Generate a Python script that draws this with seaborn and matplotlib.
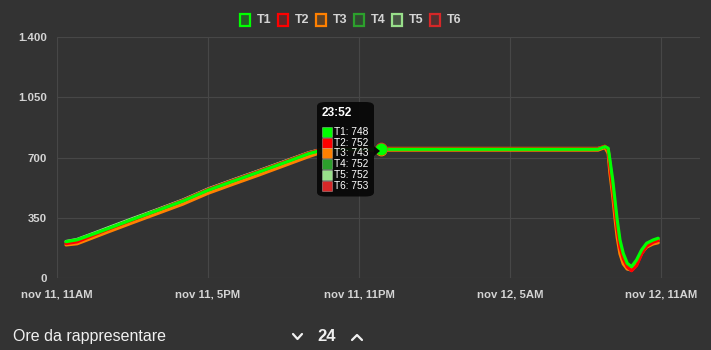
import matplotlib
matplotlib.use("Agg")
import numpy as np
import pandas as pd
import seaborn as sns
import matplotlib.pyplot as plt
from matplotlib.patches import Rectangle, FancyBboxPatch, Polygon
from matplotlib.lines import Line2D

# ---------------- data ----------------
hours = [0.36, 0.8, 1.0, 1.5, 2, 3, 4, 5, 6, 7, 8, 9, 10, 10.5, 10.8,
         12, 14, 16, 18, 20, 21.5,
         21.77, 21.9, 21.97, 22.08, 22.17, 22.26, 22.37, 22.5, 22.66, 22.83,
         23.03, 23.23, 23.43, 23.69, 23.89]

t1 = [211, 222, 232, 258, 285, 340, 393, 447, 510, 563, 615, 668, 722, 742, 748,
      748, 748, 748, 748, 748, 748,
      763, 754, 686, 570, 453, 337, 221, 143, 85, 66, 105, 163, 202, 221, 231]
t2 = [200, 210, 222, 252, 282, 338, 394, 450, 514, 567, 619, 672, 726, 746, 752,
      752, 752, 752, 752, 752, 752,
      766, 745, 650, 520, 400, 285, 180, 112, 64, 42, 72, 140, 185, 208, 218]
t3 = [192, 199, 210, 238, 266, 321, 375, 429, 492, 545, 597, 651, 705, 730, 743,
      743, 743, 743, 743, 743, 743,
      758, 725, 610, 480, 350, 235, 140, 82, 52, 55, 88, 145, 180, 198, 205]
t4 = [208, 220, 231, 257, 284, 339, 393, 448, 512, 565, 618, 671, 725, 745, 752,
      752, 752, 752, 752, 752, 752,
      762, 748, 670, 545, 425, 310, 200, 125, 68, 50, 90, 150, 192, 212, 224]
t5 = [212, 224, 235, 262, 290, 345, 398, 453, 517, 570, 622, 675, 728, 747, 752,
      752, 752, 752, 752, 752, 752,
      761, 740, 650, 520, 395, 280, 175, 100, 55, 45, 85, 148, 190, 210, 222]
t6 = [202, 213, 225, 255, 285, 341, 397, 452, 516, 569, 621, 674, 727, 747, 753,
      753, 753, 753, 753, 753, 753,
      765, 746, 660, 530, 410, 292, 185, 114, 66, 45, 76, 142, 187, 209, 219]

series_names = ["T1", "T2", "T3", "T4", "T5", "T6"]
series_values = [t1, t2, t3, t4, t5, t6]
colors = ["#00ff00", "#ff0000", "#ff8000", "#2ca02c", "#98df8a", "#d62728"]

tick_hours = [0, 6, 12, 18, 24]
tick_labels = ["nov 11, 11AM", "nov 11, 5PM", "nov 11, 11PM", "nov 12, 5AM", "nov 12, 11AM"]
y_ticks = [0, 350, 700, 1050, 1400]
y_labels = ["0", "350", "700", "1.050", "1.400"]

hover_hour = 12 + 52 / 60
hover_title = "23:52"
hover_values = [748, 752, 743, 752, 752, 753]

footer_label = "Ore da rappresentare"
footer_hours = "24"

# ---------------- style ----------------
W, H = 711, 350
BG = "#333333"
GRID = "#474747"
TXT = "#d4d4d4"

sns.set_style("dark", {"axes.facecolor": BG, "figure.facecolor": BG,
                       "axes.edgecolor": BG, "grid.color": GRID})
plt.rcParams["font.family"] = ["Liberation Sans", "DejaVu Sans"]


def fx(x):
    return x / W


def fy(y):
    return 1 - y / H


fig = plt.figure(figsize=(W / 100, H / 100), dpi=100)
fig.patch.set_facecolor(BG)
ax = fig.add_axes([fx(57), fy(278), (700 - 57) / W, (278 - 37) / H])
ax.set_facecolor(BG)

df = pd.DataFrame({
    "hour": hours * len(series_names),
    "value": sum(series_values, []),
    "serie": np.repeat(series_names, len(hours)),
})

sns.lineplot(data=df, x="hour", y="value", hue="serie",
             hue_order=series_names[::-1],
             palette=dict(zip(series_names, colors)),
             linewidth=2.3, estimator=None, sort=False, legend=False, ax=ax)

# hover points
for name, col, v in list(zip(series_names, colors, hover_values))[::-1]:
    ax.plot([hover_hour], [v], marker="o", ms=7.5, color=col, mec=col, zorder=5)
ax.plot([hover_hour], [hover_values[0]], marker="o", ms=5.5, color=colors[0],
        mec=colors[0], zorder=6)

ax.set_xlim(0, 25.55)
ax.set_ylim(0, 1400)
ax.set_xticks(tick_hours)
ax.set_xticklabels(tick_labels)
ax.set_yticks(y_ticks)
ax.set_yticklabels(y_labels)
ax.set_xlabel("")
ax.set_ylabel("")
ax.grid(True, color=GRID, lw=0.8)
ax.set_axisbelow(True)
for s in ax.spines.values():
    s.set_visible(False)
ax.tick_params(axis="both", length=6.5, width=0.8, color=GRID,
               labelcolor=TXT, labelsize=8.2)
ax.tick_params(axis="y", pad=0.8)
ax.tick_params(axis="x", pad=2)
for lab in ax.get_xticklabels() + ax.get_yticklabels():
    lab.set_fontweight("bold")

# ---------------- legend (top) ----------------
for i, (name, col) in enumerate(zip(series_names, colors)):
    x0 = 239 + 38 * i
    fig.add_artist(Rectangle((fx(x0 + 1), fy(26)), 10 / W, 12.5 / H,
                             transform=fig.transFigure, facecolor=col + "33",
                             edgecolor=col, lw=1.6))
    fig.text(fx(x0 + 17.5), fy(19.7), name, color=TXT, fontsize=9,
             fontweight="bold", va="center", ha="left")

# ---------------- tooltip ----------------
fig.add_artist(FancyBboxPatch((fx(317), fy(196.5)), (374 - 317) / W, (196.5 - 102) / H,
                              boxstyle="round,pad=0,rounding_size=0.012",
                              transform=fig.transFigure, facecolor="#080808",
                              edgecolor="none", alpha=0.95, zorder=10))
fig.add_artist(Polygon([(fx(374), fy(146)), (fx(380), fy(151)), (fx(374), fy(156))],
                       closed=True, transform=fig.transFigure,
                       facecolor="#080808", edgecolor="none", zorder=10))
fig.text(fx(322), fy(113), hover_title, color="white", fontsize=8.6,
         fontweight="bold", va="center", ha="left", zorder=11)
for i, (name, col, v) in enumerate(zip(series_names, colors, hover_values)):
    yc = 131.7 + 10.85 * i
    fig.add_artist(Rectangle((fx(322), fy(yc + 5)), 10 / W, 10 / H,
                             transform=fig.transFigure, facecolor=col,
                             edgecolor="#ffffff55", lw=0.6, zorder=11))
    fig.text(fx(334), fy(yc), f"{name}: {v}", color="white", fontsize=7.3,
             va="center", ha="left", zorder=11)

# ---------------- footer ----------------
fig.text(fx(13), fy(336), footer_label, color="#f0f0f0", fontsize=11.5,
         va="center", ha="left")
fig.text(fx(326.5), fy(336.5), footer_hours, color="#f0f0f0", fontsize=12,
         fontweight="bold", va="center", ha="center")
fig.add_artist(Line2D([fx(293), fx(297.5), fx(302)], [fy(334), fy(339), fy(334)],
                      transform=fig.transFigure, color="#f0f0f0", lw=1.6))
fig.add_artist(Line2D([fx(352), fx(357), fx(362)], [fy(340), fy(335), fy(340)],
                      transform=fig.transFigure, color="#f0f0f0", lw=1.6))

fig.savefig("out.png", dpi=100, facecolor=BG)
